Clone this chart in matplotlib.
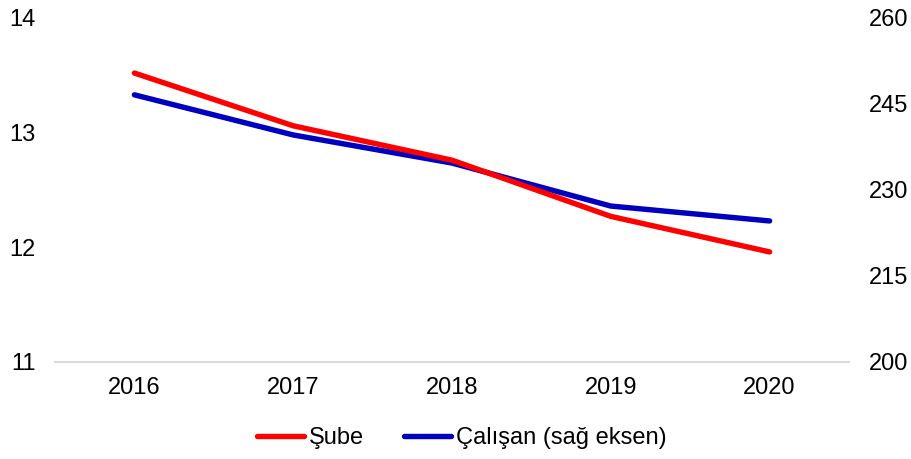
import matplotlib
matplotlib.use("Agg")
import matplotlib.pyplot as plt

years = ["2016", "2017", "2018", "2019", "2020"]
sube = [13.52, 13.06, 12.76, 12.27, 11.96]
calisan = [246.6, 239.6, 234.7, 227.2, 224.6]
left_ticks = [11, 12, 13, 14]
right_ticks = [200, 215, 230, 245, 260]

plt.rcParams['font.family'] = ['Liberation Sans', 'DejaVu Sans']
fig = plt.figure(figsize=(9.12, 4.59), dpi=100)
ax = fig.add_axes([55/912, 1-362/459, (849-55)/912, (362-18)/459])
ax2 = ax.twinx()

x = list(range(len(years)))
l1, = ax.plot(x, sube, color='#FF0000', lw=3.9, solid_capstyle='round', label='Şube')
l2, = ax2.plot(x, calisan, color='#0000C0', lw=3.9, solid_capstyle='round', label='Çalışan (sağ eksen)')
ax.set_zorder(ax2.get_zorder()+1)
ax.patch.set_visible(False)

ax.set_xlim(-0.5, 4.5)
ax.set_ylim(11, 14)
ax2.set_ylim(200, 260)
ax.set_xticks(x)
ax.set_xticklabels(years)
ax.set_yticks(left_ticks)
ax2.set_yticks(right_ticks)

for a in (ax, ax2):
    for s in a.spines.values():
        s.set_visible(False)
    a.tick_params(length=0, labelsize=17, colors='black')
ax.spines['bottom'].set_visible(True)
ax.spines['bottom'].set_color('#D9D9D9')
ax.spines['bottom'].set_linewidth(1.5)
ax.tick_params(axis='x', pad=11)
ax.tick_params(axis='y', pad=14)
ax2.tick_params(axis='y', pad=14)

fig.legend(handles=[l1, l2], loc='lower center', bbox_to_anchor=(0.506, -0.025), ncol=2,
           frameon=False, fontsize=17, handlelength=2.0, columnspacing=1.7, handletextpad=0.2)

fig.savefig('out.png', dpi=100)
